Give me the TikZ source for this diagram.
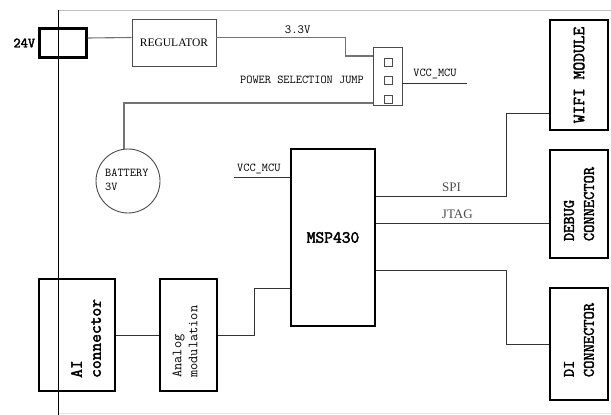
\documentclass[tikz,border=0pt]{standalone}
\usepackage{fontspec}
\setmonofont{Latin Modern Mono}[BoldFont={Latin Modern Mono}, BoldFeatures={FakeBold=2.5}]
\newfontfamily\serif{Liberation Serif}

\begin{document}
\begin{tikzpicture}[x=1pt, y=-1pt, line join=miter, font=\ttfamily,
	thk/.style={draw, line width=2.4pt, inner sep=0pt},
	thn/.style={draw=black!70, line width=0.9pt, inner sep=0pt},
	wire/.style={draw=black!80, line width=0.8pt},
	gwire/.style={draw=black!55, line width=1.1pt},
	vtext/.style={rotate=90, align=left, inner sep=0pt}]
	\useasboundingbox (0,0) rectangle (611,415);
	% board outline
	\draw[black!25, line width=0.8pt] (58,10) -- (611,10);
	\draw[black!10, line width=1pt] (58,413) -- (611,413);
	\draw[line width=0.8pt] (58,10) -- (58,415);
	% power
	\node[thk, minimum width=47, minimum height=29] (jack) at (63,43) {};
	\node[left, inner sep=3pt, font=\ttfamily\bfseries\fontsize{14}{14}\selectfont] (v24) at (jack.west) {24V};
	\node[thn, minimum width=84, minimum height=47, font=\serif\fontsize{11.5}{11.5}\selectfont] (reg) at (174,42.5) {REGULATOR};
	\node[thn, minimum width=29, minimum height=58] (jmp) at (387.5,76) {};
	\foreach \i/\y in {1/62,2/80,3/99}
		\node[draw=black!70, line width=0.7pt, minimum size=8, inner sep=0pt] (pin\i) at (388,\y) {};
	\node[font=\ttfamily\fontsize{12}{12}\selectfont] (psj) at (302,80) {POWER SELECTION JUMP};
	\node[circle, thn, minimum size=64] (bat) at (128,181) {};
	\node[anchor=west, align=left, inner sep=0pt, font=\ttfamily\fontsize{12}{14}\selectfont] (battxt) at (105,180) {BATTERY\\3V};
	\draw[gwire] ([yshift=5]jack.east) -- ([yshift=5]reg.west);
	\draw[gwire] ([yshift=5]reg.east) -- ++(129,0) node[pos=0.63, above, black, inner sep=3pt, font=\ttfamily\fontsize{12.5}{12.5}\selectfont] {3.3V} |- ([yshift=20]jmp.west);
	\draw[gwire] ([yshift=-27]jmp.west) -| ([xshift=-4]bat.north);
	\draw[wire] ([yshift=-7]jmp.east) -- ++(65,0) node[midway, above, inner sep=4pt, font=\ttfamily\fontsize{12}{12}\selectfont] {VCC\_MCU};
	% mcu and peripherals
	\node[thk, minimum width=84, minimum height=177, font=\ttfamily\bfseries\fontsize{17}{17}\selectfont] (msp) at (333,237.5) {MSP430};
	\node[thk, minimum width=58, minimum height=110] (wifi) at (579,75) {};
	\node[vtext, font=\ttfamily\bfseries\fontsize{17}{17}\selectfont] (wifitxt) at (wifi) {WIFI MODULE};
	\node[thk, minimum width=58, minimum height=108] (dbg) at (579,204) {};
	\node[vtext, font=\ttfamily\bfseries\fontsize{16}{20}\selectfont] (dbgtxt) at (dbg) {DEBUG\\CONNECTOR};
	\node[thk, minimum width=58, minimum height=112] (di) at (579,344) {};
	\node[vtext, font=\ttfamily\bfseries\fontsize{16}{20}\selectfont] (ditxt) at ([yshift=4]di.center) {DI\\CONNECTOR};
	\draw[wire] ([yshift=60.5]msp.west) -- ++(-56,0) node[above right, inner sep=3pt, font=\ttfamily\fontsize{12}{12}\selectfont] {VCC\_MCU};
	\draw[wire] ([yshift=41.5]msp.east) -- ++(130,0) node[pos=0.58, above, black!70, inner sep=4pt, font=\serif\fontsize{13}{13}\selectfont] {SPI} |- ([yshift=-38]wifi.west);
	\draw[wire] ([yshift=14.5]msp.east) -- ([yshift=14.5]msp.east -| dbg.west) node[pos=0.47, above, black!70, inner sep=4pt, font=\serif\fontsize{13}{13}\selectfont] {JTAG};
	\draw[wire] ([yshift=-32.5]msp.east) -- ++(130,0) |- (di.west);
	% analog input
	\node[thk, minimum width=76, minimum height=112] (ai) at (77,335) {};
	\node[vtext, anchor=west, font=\ttfamily\bfseries\fontsize{17}{19}\selectfont] (aitxt) at (86,378) {AI\\connector};
	\node[thk, minimum width=57, minimum height=112] (ana) at (188.5,335) {};
	\node[vtext, anchor=west, font=\ttfamily\fontsize{14}{16}\selectfont] (anatxt) at (185,378) {Analog\\modulation};
	\draw[wire] (ai.east) -- (ana.west);
	\draw[wire] (ana.east) -- ++(36,0) |- ([yshift=-50.5]msp.west);
\end{tikzpicture}
\end{document}
